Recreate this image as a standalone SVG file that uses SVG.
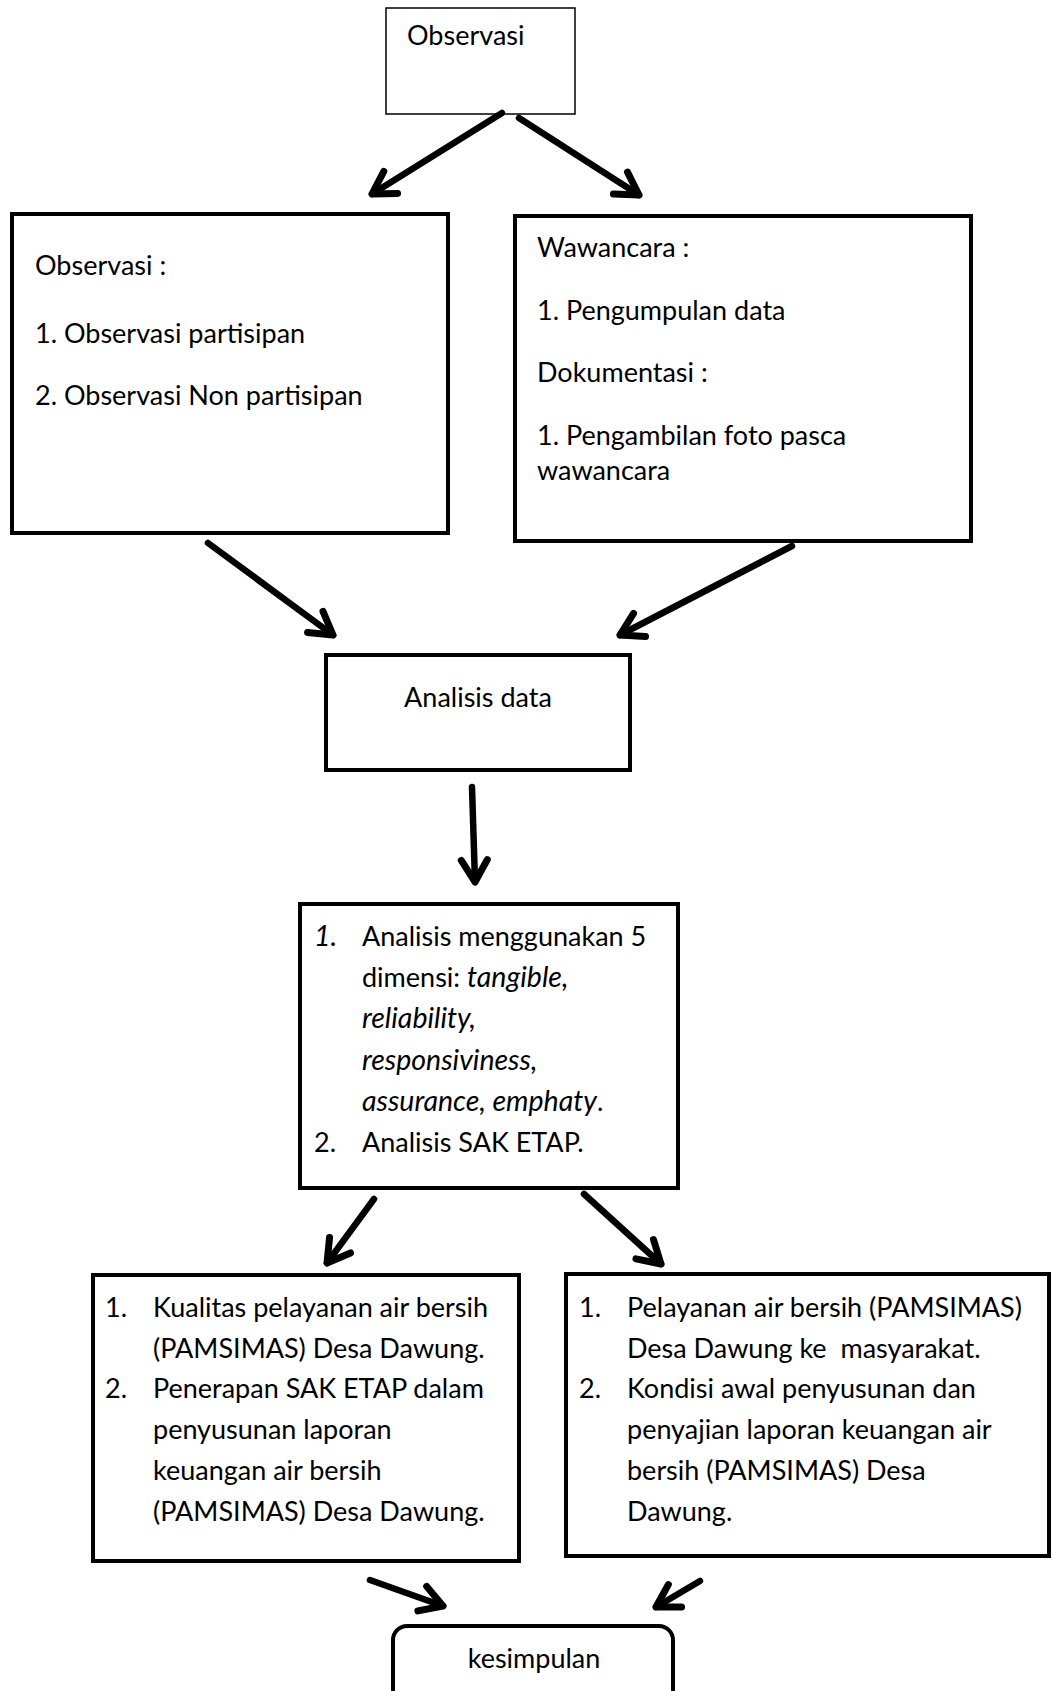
<svg xmlns="http://www.w3.org/2000/svg" width="1052" height="1691" viewBox="0 0 1052 1691">
<defs>
<style>
.box{fill:#fff;stroke:#000;stroke-width:4}
.thin{fill:#fff;stroke:#000;stroke-width:1.5}
text{font-family:Lato,"Open Sans",sans-serif;font-size:27px;fill:#000;white-space:pre}
.it{font-style:italic;font-size:28.5px}
.arr{fill:none;stroke:#000;stroke-width:6.5;stroke-linecap:round;stroke-linejoin:round}
</style>
<marker id="ah" markerUnits="userSpaceOnUse" markerWidth="40" markerHeight="40" viewBox="-26 -20 32 40" refX="0" refY="0" orient="auto">
<path d="M-22,-13 L0,0 L-22,13" fill="none" stroke="#000" stroke-width="7" stroke-linecap="round" stroke-linejoin="round"/>
</marker>
</defs>
<g id="n1">
<rect class="thin" x="386" y="8" width="189" height="106"/>
<text x="407" y="45">Observasi</text>
</g>
<g id="n2">
<rect class="box" x="12" y="214" width="436" height="319"/>
<text x="35" y="275">Observasi :</text>
<text x="35" y="343">1. Observasi partisipan</text>
<text x="35" y="405">2. Observasi Non partisipan</text>
</g>
<g id="n3">
<rect class="box" x="515" y="216" width="456" height="325"/>
<text x="537" y="257">Wawancara :</text>
<text x="537" y="320">1. Pengumpulan data</text>
<text x="537" y="382">Dokumentasi :</text>
<text x="537" y="445">1. Pengambilan foto pasca</text>
<text x="537" y="480">wawancara</text>
</g>
<g id="n4">
<rect class="box" x="326" y="655" width="304" height="115"/>
<text x="478" y="707" text-anchor="middle">Analisis data</text>
</g>
<g id="n5">
<rect class="box" x="300" y="904" width="378" height="284"/>
<text x="314" y="946" class="it">1.</text>
<text x="362" y="946">Analisis menggunakan 5</text>
<text x="362" y="987">dimensi: <tspan class="it">tangible,</tspan></text>
<text x="362" y="1028" class="it">reliability,</text>
<text x="362" y="1070" class="it">responsiviness,</text>
<text x="362" y="1111"><tspan class="it">assurance, emphaty</tspan>.</text>
<text x="314" y="1152">2.</text>
<text x="362" y="1152">Analisis SAK ETAP.</text>
</g>
<g id="n6">
<rect class="box" x="93" y="1275" width="426" height="286"/>
<text x="105" y="1317">1.</text>
<text x="153" y="1317">Kualitas pelayanan air bersih</text>
<text x="153" y="1358">(PAMSIMAS) Desa Dawung.</text>
<text x="105" y="1398">2.</text>
<text x="153" y="1398">Penerapan SAK ETAP dalam</text>
<text x="153" y="1439">penyusunan laporan</text>
<text x="153" y="1480">keuangan air bersih</text>
<text x="153" y="1521">(PAMSIMAS) Desa Dawung.</text>
</g>
<g id="n7">
<rect class="box" x="566" y="1274" width="483" height="282"/>
<text x="579" y="1317">1.</text>
<text x="627" y="1317">Pelayanan air bersih (PAMSIMAS)</text>
<text x="627" y="1358">Desa Dawung ke  masyarakat.</text>
<text x="579" y="1398">2.</text>
<text x="627" y="1398">Kondisi awal penyusunan dan</text>
<text x="627" y="1439">penyajian laporan keuangan air</text>
<text x="627" y="1480">bersih (PAMSIMAS) Desa</text>
<text x="627" y="1521">Dawung.</text>
</g>
<g id="n8">
<rect class="box" x="393" y="1626" width="280" height="100" rx="14"/>
<text x="534" y="1668" text-anchor="middle">kesimpulan</text>
</g>
<g id="connectors">
<line class="arr" x1="502" y1="113" x2="372" y2="194" marker-end="url(#ah)"/>
<line class="arr" x1="519" y1="118" x2="639" y2="195" marker-end="url(#ah)"/>
<line class="arr" x1="208" y1="543" x2="333" y2="635" marker-end="url(#ah)"/>
<line class="arr" x1="792" y1="546" x2="620" y2="635" marker-end="url(#ah)"/>
<line class="arr" x1="472" y1="787" x2="475" y2="882" marker-end="url(#ah)"/>
<line class="arr" x1="374" y1="1199" x2="327" y2="1263" marker-end="url(#ah)"/>
<line class="arr" x1="584" y1="1194" x2="661" y2="1264" marker-end="url(#ah)"/>
<line class="arr" x1="370" y1="1580" x2="443" y2="1606" marker-end="url(#ah)"/>
<line class="arr" x1="700" y1="1581" x2="656" y2="1607" marker-end="url(#ah)"/>
</g>
</svg>
